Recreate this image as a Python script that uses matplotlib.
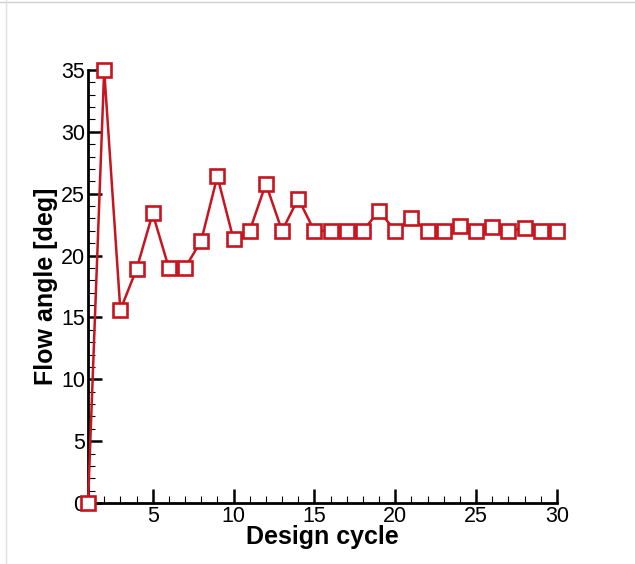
import matplotlib
matplotlib.use('Agg')
import matplotlib.pyplot as plt
from matplotlib.lines import Line2D
from matplotlib.ticker import MultipleLocator

plt.rcParams['font.family'] = ['Liberation Sans', 'DejaVu Sans']

# 설계 사이클별 유동각
cycle = list(range(1, 31))
angle = [0.0, 35.0, 15.6, 18.9, 23.4, 19.0, 19.0, 21.2, 26.4, 21.3,
         22.0, 25.8, 22.0, 24.6, 22.0, 22.0, 22.0, 22.0, 23.6, 22.0,
         23.0, 22.0, 22.0, 22.4, 22.0, 22.3, 22.0, 22.2, 22.0, 22.0]

RED = '#c8141e'

fig = plt.figure(figsize=(6.35, 5.64), dpi=100)
ax = fig.add_axes([0.1386, 0.108, 0.7384, 0.768])

ax.plot(cycle, angle, color=RED, linewidth=1.8, marker='s', markersize=9.5,
        markerfacecolor='white', markeredgecolor=RED, markeredgewidth=1.9,
        clip_on=False, zorder=3)

ax.set_xlim(1, 30)
ax.set_ylim(0, 35)
ax.xaxis.set_major_locator(MultipleLocator(5))
ax.xaxis.set_minor_locator(MultipleLocator(1))
ax.yaxis.set_major_locator(MultipleLocator(5))
ax.yaxis.set_minor_locator(MultipleLocator(1))
ax.set_xticks([5, 10, 15, 20, 25, 30])

for s in ['top', 'right']:
    ax.spines[s].set_visible(False)
for s in ['left', 'bottom']:
    ax.spines[s].set_linewidth(2)

ax.tick_params(which='major', direction='in', length=10, width=1.8, labelsize=15.5, pad=2)
ax.tick_params(which='minor', direction='in', length=5, width=0.8)

ax.set_xlabel('Design cycle', fontsize=18, fontweight='bold', labelpad=-1)
ax.set_ylabel('Flow angle [deg]', fontsize=18, fontweight='bold', labelpad=2)

# 바깥 회색 테두리
fig.add_artist(Line2D([0.0, 1.0], [0.996, 0.996], color='#d0d0d0', linewidth=1))
fig.add_artist(Line2D([0.01, 0.01], [0.0, 1.0], color='#e0e0e0', linewidth=1))

fig.savefig('out.png', dpi=100)
